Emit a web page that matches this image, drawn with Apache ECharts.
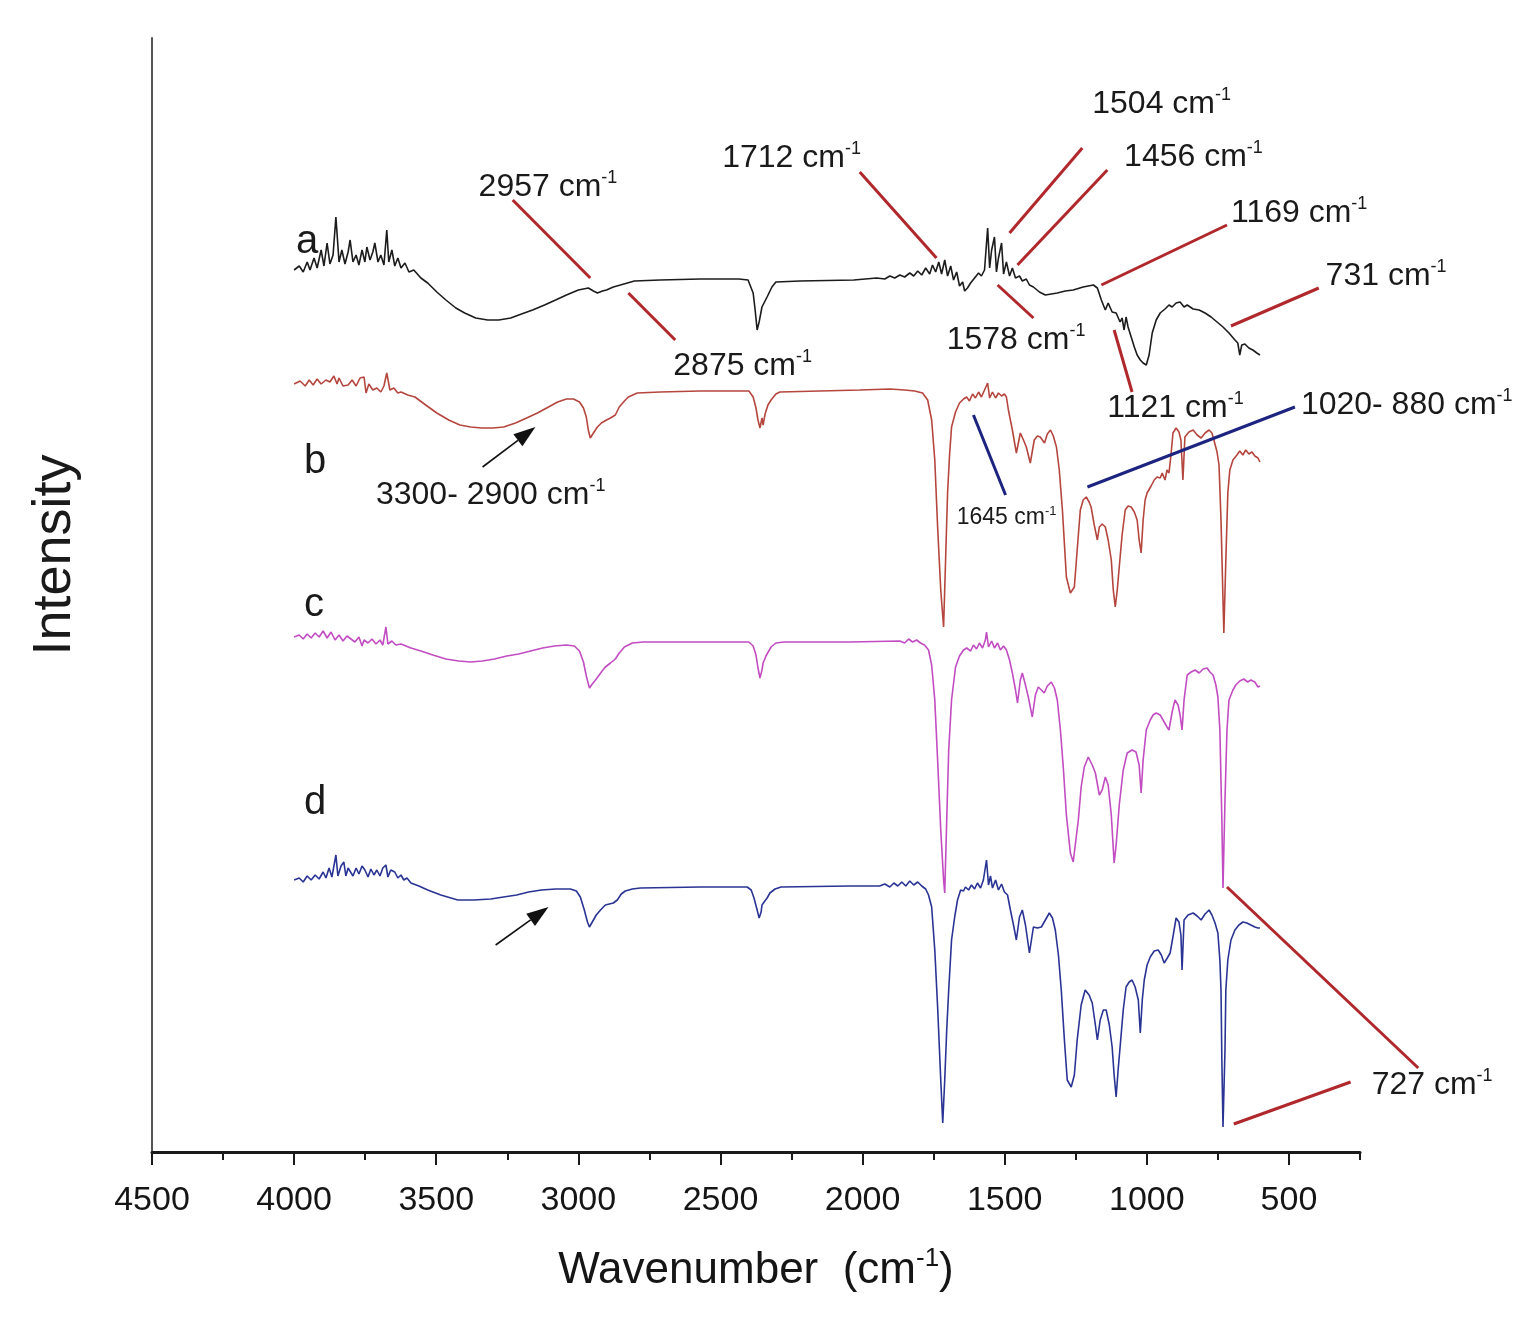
<!DOCTYPE html>
<html><head><meta charset="utf-8">
<script src="https://cdn.jsdelivr.net/npm/echarts@6/dist/echarts.min.js"></script>
<style>html,body{margin:0;padding:0;background:#fff}#c{width:1528px;height:1318px}</style>
</head><body><div id="c"></div>
<script>
// ---- Spectrum a (black) ----
const waveA = [4000,3982,3968,3954,3944,3930,3919,3905,3895,3884,3874,3863,3853,3842,3832,3821,3810,3803,3793,3782,3772,3761,3751,3744,3733,3723,3716,3705,3695,3684,3674,3667,3656,3646,3635,3624,3610,3596,3579,3554,3530,3498,3466,3431,3400,3361,3319,3280,3238,3200,3161,3119,3080,3042,3000,2965,2947,2933,2915,2901,2877,2852,2803,2712,2571,2435,2403,2385,2378,2371,2364,2354,2336,2319,2305,2220,2031,1950,1922,1904,1887,1869,1852,1834,1820,1806,1792,1778,1764,1754,1743,1732,1722,1711,1701,1690,1680,1669,1659,1648,1641,1631,1620,1606,1592,1582,1571,1560,1553,1546,1536,1529,1522,1511,1504,1494,1483,1473,1462,1448,1438,1424,1413,1399,1378,1357,1336,1315,1287,1259,1224,1188,1174,1167,1160,1146,1136,1122,1108,1094,1087,1080,1073,1066,1055,1044,1034,1023,1013,1002,992,981,967,953,936,922,911,897,883,869,858,837,816,795,774,753,732,711,690,680,673,666,655,641,627,613,602];
const intA = [88.2,88.6,88.0,89.0,88.2,89.4,88.4,90.2,88.6,90.9,88.8,89.7,93.5,89.0,90.2,88.8,90.0,91.2,89.0,89.7,88.7,90.2,89.0,90.5,89.2,90.0,90.9,89.0,89.7,88.7,92.2,89.0,90.2,88.6,89.4,88.4,88.9,88.0,88.2,87.4,86.9,86.0,85.2,84.4,83.9,83.4,83.2,83.2,83.4,83.8,84.2,84.7,85.2,85.7,86.2,86.4,86.1,85.9,86.1,86.2,86.5,86.7,87.1,87.2,87.3,87.3,87.2,85.9,84.2,82.2,83.0,84.5,85.5,86.5,87.0,87.1,87.2,87.4,87.3,87.6,87.4,87.7,87.5,87.9,87.6,88.1,87.7,88.4,87.8,88.7,88.0,89.0,87.8,89.2,87.6,88.6,87.2,88.0,86.6,87.0,86.1,86.4,86.9,87.4,87.9,87.6,88.2,92.4,88.4,90.2,91.5,88.0,89.4,90.9,87.8,89.0,87.6,88.4,87.4,87.6,87.1,87.3,86.7,86.5,86.0,85.7,85.8,85.9,86.1,86.2,86.5,86.7,86.4,85.8,85.2,84.2,84.9,84.0,83.9,83.0,83.4,82.2,83.5,82.5,81.5,80.5,79.7,79.2,78.9,78.7,79.7,81.9,83.2,83.9,84.3,84.7,84.5,84.9,85.0,84.5,84.7,84.3,84.2,83.9,83.5,83.0,82.5,81.9,81.2,80.9,79.7,80.7,80.8,80.4,80.2,79.9,79.7];

// ---- Spectrum b (red) ----
const waveB = [4000,3979,3961,3947,3933,3919,3905,3888,3874,3860,3849,3842,3828,3810,3796,3782,3768,3754,3747,3737,3723,3709,3695,3684,3674,3663,3649,3635,3624,3600,3575,3537,3498,3456,3417,3379,3340,3301,3263,3221,3182,3144,3105,3073,3042,3017,2996,2982,2972,2965,2958,2947,2933,2919,2901,2887,2870,2856,2838,2824,2793,2712,2571,2431,2400,2385,2375,2368,2361,2354,2350,2343,2333,2322,2305,2291,2150,2010,1904,1852,1817,1789,1771,1757,1746,1736,1725,1715,1708,1701,1694,1687,1673,1659,1645,1634,1624,1613,1603,1592,1582,1571,1560,1553,1543,1532,1522,1511,1501,1494,1487,1473,1459,1445,1434,1424,1410,1396,1385,1375,1360,1350,1339,1329,1318,1308,1297,1283,1269,1255,1245,1234,1224,1213,1203,1196,1185,1174,1167,1157,1146,1136,1125,1118,1111,1104,1097,1087,1076,1066,1055,1044,1034,1027,1020,1013,1006,999,985,974,964,953,946,936,929,922,915,908,897,887,880,873,866,852,837,823,809,795,781,771,764,753,746,739,732,729,722,715,708,697,683,673,662,652,641,630,620,609,602];
const intB = [76.8,77.1,76.6,77.2,76.7,77.3,76.8,77.2,77.0,77.6,76.8,77.4,76.6,76.7,77.2,76.6,77.4,77.5,75.9,76.8,76.2,76.4,76.0,76.6,77.9,76.2,76.4,75.9,76.0,75.7,75.5,74.7,73.9,73.2,72.7,72.5,72.4,72.4,72.5,72.9,73.4,73.9,74.5,75.0,75.3,75.3,75.0,74.4,73.5,72.2,71.4,71.9,72.5,72.9,73.2,73.4,73.7,74.5,75.1,75.5,75.9,76.0,76.1,76.1,76.1,75.5,74.4,73.2,72.4,73.4,72.7,73.8,74.7,75.2,75.8,76.0,76.1,76.2,76.3,76.2,76.1,75.9,75.2,73.2,69.2,62.5,56.2,52.5,59.2,65.9,69.7,72.5,74.0,74.9,75.3,75.5,75.1,75.8,75.4,76.0,75.5,76.2,76.9,75.4,76.0,75.4,75.9,75.6,75.8,75.5,74.2,72.2,69.9,71.9,71.2,70.5,68.9,71.2,71.6,71.5,70.9,71.8,72.2,71.6,70.5,68.2,64.2,57.5,55.9,56.5,60.2,64.2,65.2,65.5,65.0,64.5,62.7,61.2,62.5,62.8,62.5,61.2,59.2,56.2,54.5,56.2,58.5,61.7,64.2,64.6,64.5,64.0,63.2,61.2,59.9,63.2,65.2,65.9,66.6,67.2,67.5,67.4,67.9,67.2,68.2,67.9,69.7,71.9,72.4,72.0,71.2,67.2,71.5,72.0,72.2,71.7,71.4,71.9,72.2,71.9,71.2,70.0,68.7,63.2,55.2,51.9,59.2,65.9,68.2,69.2,69.7,70.1,69.7,70.2,69.8,70.0,69.6,69.4,69.0];

// ---- Spectrum c (magenta) ----
const waveC = [4000,3982,3968,3954,3940,3926,3912,3898,3884,3870,3856,3842,3828,3814,3800,3786,3772,3761,3754,3740,3726,3712,3698,3688,3677,3670,3656,3642,3624,3589,3554,3512,3466,3421,3379,3337,3295,3252,3210,3168,3126,3084,3042,3014,2996,2982,2972,2961,2951,2937,2919,2905,2887,2870,2856,2838,2810,2772,2571,2400,2385,2375,2368,2361,2354,2350,2340,2322,2305,2277,2045,1869,1852,1838,1824,1810,1796,1782,1768,1757,1746,1736,1725,1715,1711,1704,1697,1687,1673,1659,1645,1634,1620,1610,1599,1589,1578,1568,1564,1557,1546,1536,1525,1515,1504,1494,1483,1473,1462,1455,1445,1438,1427,1417,1403,1392,1382,1371,1361,1350,1336,1325,1315,1304,1294,1283,1269,1259,1252,1241,1231,1220,1206,1192,1181,1167,1157,1146,1136,1125,1115,1108,1097,1083,1069,1052,1038,1027,1020,1013,1002,988,978,967,953,943,936,929,922,911,901,890,883,876,869,858,844,830,816,802,788,778,767,757,750,743,736,732,725,718,711,697,687,673,659,645,634,620,609,602];
const intC = [51.5,51.7,51.3,51.8,51.4,51.9,51.5,52.1,51.4,52.0,51.2,51.7,51.1,51.6,51.3,51.0,51.5,50.6,51.2,50.9,51.3,50.8,51.2,50.7,52.5,50.8,51.1,50.7,50.8,50.4,50.1,49.7,49.3,49.1,49.0,49.1,49.3,49.6,49.8,50.1,50.4,50.6,50.7,50.6,50.1,49.0,47.6,46.4,46.8,47.3,48.0,48.5,48.9,49.3,49.9,50.5,50.9,51.0,51.0,51.0,50.6,49.7,48.4,47.4,48.2,48.9,49.6,50.5,50.9,51.0,51.0,51.1,50.9,51.3,51.0,51.2,50.9,50.7,50.2,48.7,45.2,39.2,32.2,27.2,25.9,33.2,40.2,45.2,48.5,49.6,50.2,50.4,50.1,50.7,50.3,50.9,50.4,51.2,52.0,50.5,51.1,50.4,50.9,50.2,50.6,50.2,49.2,47.9,46.2,44.9,47.2,47.9,46.7,45.5,43.5,45.7,46.5,46.2,45.9,46.6,47.0,46.4,45.2,42.2,38.5,33.7,29.9,29.0,29.2,33.2,36.5,38.5,39.5,38.7,37.9,35.7,36.2,37.5,36.7,33.7,28.9,30.7,34.7,38.2,39.9,40.2,40.0,38.7,35.9,39.2,42.2,43.2,43.7,43.9,43.7,43.2,43.4,42.5,42.2,44.0,45.2,44.7,43.7,42.2,45.2,47.7,48.0,48.2,47.9,48.3,48.4,48.0,47.7,46.7,45.5,42.2,33.2,26.4,35.2,42.2,45.2,46.2,46.7,47.1,47.3,47.0,47.2,47.0,46.5,46.6];

// ---- Spectrum d (blue) ----
const waveD = [4000,3982,3968,3954,3940,3926,3912,3898,3888,3877,3867,3853,3846,3835,3825,3818,3810,3803,3793,3782,3772,3761,3751,3740,3730,3719,3709,3698,3688,3677,3670,3660,3646,3635,3624,3614,3603,3589,3561,3530,3484,3424,3368,3308,3263,3217,3175,3130,3080,3028,3007,2993,2979,2968,2961,2951,2937,2922,2905,2891,2877,2863,2849,2835,2810,2782,2571,2406,2392,2382,2371,2364,2357,2354,2347,2336,2326,2308,2287,2045,1940,1922,1904,1890,1876,1862,1848,1834,1820,1806,1792,1778,1768,1757,1746,1736,1725,1718,1711,1704,1697,1687,1676,1666,1655,1645,1638,1627,1617,1606,1596,1585,1575,1564,1557,1550,1543,1532,1522,1511,1501,1490,1480,1469,1459,1448,1438,1427,1413,1399,1385,1371,1357,1343,1332,1322,1311,1301,1290,1280,1266,1255,1245,1231,1217,1203,1192,1181,1174,1164,1153,1143,1132,1122,1115,1108,1101,1094,1083,1073,1062,1052,1041,1030,1023,1016,1009,999,988,974,960,949,939,928,918,907,897,887,880,876,869,855,837,823,809,795,781,771,760,750,743,739,736,732,725,722,715,704,690,676,662,648,634,620,609,602];
const intD = [27.2,27.4,27.0,27.6,27.2,27.7,27.3,28.0,27.4,28.4,27.5,29.7,27.6,28.6,29.0,27.6,28.4,28.2,27.6,28.4,27.8,28.6,28.2,27.5,28.3,27.7,28.2,27.6,28.4,28.7,27.5,28.2,28.0,27.4,27.7,27.2,27.4,26.9,26.6,26.2,25.7,25.2,25.2,25.3,25.5,25.7,26.0,26.2,26.3,26.3,26.1,25.5,24.2,23.0,22.5,23.0,23.7,24.2,24.7,24.8,24.9,25.2,25.8,26.1,26.3,26.4,26.5,26.5,26.2,25.4,24.2,23.4,24.0,24.7,24.5,25.4,25.9,26.3,26.5,26.6,26.6,26.8,26.5,26.9,26.6,27.0,26.6,27.1,26.7,27.0,26.6,26.3,25.7,24.5,20.2,14.5,7.2,2.9,7.2,12.2,16.2,21.2,23.5,25.2,26.2,26.1,26.5,26.2,26.7,26.3,26.9,26.4,27.2,29.2,26.7,27.6,26.4,27.2,26.2,26.8,26.0,25.7,24.2,22.7,21.2,23.5,24.2,22.7,19.9,22.5,22.4,22.5,23.2,23.9,23.4,22.2,19.7,16.2,11.2,7.2,6.5,7.7,11.2,14.7,16.2,15.7,14.9,12.7,11.2,13.2,14.2,14.2,12.7,10.5,7.7,5.5,8.2,10.5,14.2,16.5,17.0,17.2,16.5,15.2,11.9,15.2,17.2,18.7,19.5,20.1,20.2,19.7,18.9,19.4,19.9,21.7,23.4,23.0,21.7,18.2,23.2,23.7,23.9,23.6,23.2,23.8,24.2,23.7,22.9,21.9,19.2,16.2,9.2,2.5,10.2,16.2,19.2,21.2,22.2,22.7,23.0,22.9,22.7,22.5,22.4,22.4];

// ---- Axis ticks ----
const tickMajor = [500,1000,1500,2000,2500,3000,3500,4000,4500];
const tickMinor = [250,750,1250,1750,2250,2750,3250,3750,4250];

// ---- Annotation leader lines [wave1, int1, wave2, int2] ----
const redLines = [[3231,95.2,2958,87.4],[2824,85.9,2659,81.2],[2010,98.0,1740,89.4],[1227,100.4,1483,91.9],[1139,98.2,1455,88.7],[718,92.7,1160,86.7],[395,86.4,704,82.6],[1525,86.7,1399,83.4],[1115,82.2,1052,76.0],[718,26.5,45,8.4],[694,2.8,283,7.0]];
const blueLines = [[1209,66.5,479,74.5],[1610,73.7,1497,65.7]];
const arrowLines = [[3337,68.5,3151,72.5],[3291,20.7,3105,24.5]];

// ---- Annotation texts ----
const peakText = ['2957 cm','2875 cm','1712 cm','1504 cm','1456 cm','1169 cm','731 cm','1578 cm','1121 cm','1020- 880 cm','1645 cm','3300- 2900 cm','727 cm'];
const peakWave = [3351,2666,2494,1192,1080,704,371,1704,1139,458,1669,3712,209];
const peakInt = [96.5,78.6,99.4,104.8,99.5,93.9,87.6,81.2,74.4,74.7,63.4,65.7,6.7];
const peakSmall = [false,false,false,false,false,false,false,false,false,false,true,false,false];

const traceLetters = ['a','b','c','d'];
const letterWave = [3993,3965,3965,3965];
const letterInt = [91.0,69.0,54.7,34.9];

const FONT = '"Liberation Sans", Arial, Helvetica, sans-serif';
const NARROW = '"Liberation Sans Narrow", "Arial Narrow", "Liberation Sans", sans-serif';
const colors = ['#1c1c1c','#b5463e','#c24cc2','#2a3494'];

const chart = echarts.init(document.getElementById('c'), null, {renderer:'canvas'});
const zip = (w, v) => w.map((x, i) => [x, v[i]]);

const series = [[waveA,intA],[waveB,intB],[waveC,intC],[waveD,intD]].map((p, i) => ({
  type:'line', name:traceLetters[i], data:zip(p[0], p[1]), xAxisIndex:0, yAxisIndex:0,
  showSymbol:false, symbol:'none', smooth:false, silent:true,
  lineStyle:{color:colors[i], width:1.6}, itemStyle:{color:colors[i]}
}));

chart.setOption({
  animation:false,
  backgroundColor:'#ffffff',
  grid:{left:152, right:168, top:38, bottom:166},
  xAxis:[{
    type:'value', inverse:true, min:250, max:4500, position:'bottom',
    axisLine:{show:true, lineStyle:{color:'#1a1a1a', width:3}},
    axisTick:{show:true, customValues:tickMajor, length:13, lineStyle:{color:'#1a1a1a', width:2}},
    axisLabel:{show:true, customValues:tickMajor, fontSize:34, fontFamily:NARROW, color:'#151515', margin:32,
      formatter: v => String(v)},
    splitLine:{show:false},
    name:'Wavenumber  (cm{s|-1})', nameLocation:'middle', nameGap:94,
    nameTextStyle:{fontSize:44, fontFamily:FONT, color:'#151515', lineHeight:50,
      rich:{s:{fontSize:26, fontFamily:FONT, color:'#151515', verticalAlign:'top', lineHeight:22}}}
  },{
    type:'value', inverse:true, min:250, max:4500, position:'bottom',
    axisLine:{show:false},
    axisTick:{show:true, customValues:tickMinor, length:8, lineStyle:{color:'#1a1a1a', width:2}},
    axisLabel:{show:false}, splitLine:{show:false}
  }],
  yAxis:{type:'value', min:0, max:111.4,
    axisLine:{show:true, lineStyle:{color:'#555', width:2}},
    axisTick:{show:false}, axisLabel:{show:false}, splitLine:{show:false}},
  series: series
});

const P = (w, v) => chart.convertToPixel({seriesIndex:0}, [w, v]);
const g = [];
function addLine(l, color, width) {
  const a = P(l[0], l[1]), b = P(l[2], l[3]);
  g.push({type:'line', silent:true, z:50, shape:{x1:a[0], y1:a[1], x2:b[0], y2:b[1]}, style:{stroke:color, lineWidth:width}});
}
redLines.forEach(l => addLine(l, '#b0282c', 3));
blueLines.forEach(l => addLine(l, '#1d2480', 3));
arrowLines.forEach(l => {
  const a = P(l[0], l[1]), b = P(l[2], l[3]);
  const dx = b[0]-a[0], dy = b[1]-a[1], len = Math.hypot(dx, dy);
  const ux = dx/len, uy = dy/len, hl = 22, hw = 7.5;
  const bx = b[0]-ux*hl, by = b[1]-uy*hl;
  g.push({type:'line', silent:true, z:50, shape:{x1:a[0], y1:a[1], x2:bx, y2:by}, style:{stroke:'#111', lineWidth:1.6}});
  g.push({type:'polygon', silent:true, z:50, shape:{points:[[b[0],b[1]],[bx-uy*hw, by+ux*hw],[bx+uy*hw, by-ux*hw]]}, style:{fill:'#111'}});
});
peakText.forEach((t, i) => {
  const p = P(peakWave[i], peakInt[i]);
  const small = peakSmall[i];
  g.push({type:'text', silent:true, z:60, x:p[0], y:p[1], style:{
    text:'{n|' + t + '}{s|-1}', align:'left', verticalAlign:'middle',
    rich:{
      n:{fontSize: small ? 23 : 32, fontFamily:FONT, fill:'#1a1a1a', lineHeight: small ? 26 : 36},
      s:{fontSize: small ? 13 : 18, fontFamily:FONT, fill:'#1a1a1a', verticalAlign:'top', lineHeight: small ? 10 : 14}
    }}});
});
traceLetters.forEach((t, i) => {
  const p = P(letterWave[i], letterInt[i]);
  g.push({type:'text', silent:true, z:60, x:p[0], y:p[1], style:{text:t, font:'40px ' + FONT, fill:'#1a1a1a', align:'left', verticalAlign:'middle'}});
});
g.push({type:'text', silent:true, z:60, x:55, y:555, rotation:Math.PI/2, style:{text:'Intensity', font:'54px ' + FONT, fill:'#1a1a1a', align:'center', verticalAlign:'middle'}});
chart.setOption({graphic:g});
</script>
</body></html>
